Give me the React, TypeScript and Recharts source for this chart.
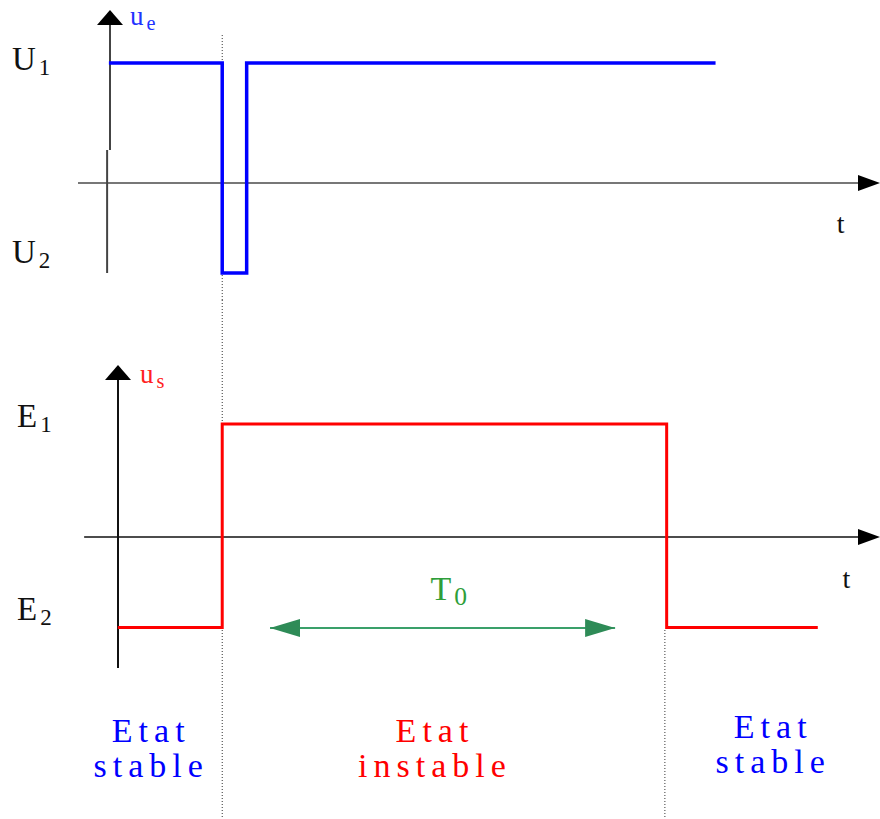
import React from "react";
import {
  LineChart,
  Line,
  XAxis,
  YAxis,
  ReferenceLine,
  ReferenceDot,
} from "recharts";

// input pulse u_e (time in ms, levels relative to U1)
const inputTimes = [-2.55, 0, 0.55, 11.1];
const inputValues = [1, -0.75, 1, 1];
const inputLevelValues = [1, -0.75];
const inputLevelNames = ["U1", "U2"];

// output u_s of the monostable
const outputTimes = [-2.35, 0, 10, 13.4];
const outputValues = [-0.8, 1, -0.8, -0.8];
const outputLevelValues = [1, -0.8];
const outputLevelNames = ["E1", "E2"];

const pulseStart = 0;
const pulseEnd = 10; // T0

const stateLabels = [
  ["Etat", "stable"],
  ["Etat", "instable"],
  ["Etat", "stable"],
];
const stateColors = ["#0000ff", "#ff0000", "#0000ff"];
const stateCenters = [-1.665, 4.72, 12.33];

const timeDomain: [number, number] = [-3.65, 14.8];
const topDomain: [number, number] = [-0.975, 1.525];
const bottomDomain: [number, number] = [-2.4956, 2.0973];

const SERIF = '"Liberation Serif", "DejaVu Serif", serif';

const inputData = inputTimes.map((t, i) => ({ t, v: inputValues[i] }));
const outputData = outputTimes.map((t, i) => ({ t, v: outputValues[i] }));

const levelTick = (names: string[], values: number[], x: number, dys: number[]) =>
  (props: any) => {
    const i = values.indexOf(props.payload.value);
    if (i < 0) return <g />;
    const name = names[i];
    return (
      <text x={x} y={props.y + dys[i]} fontFamily={SERIF} fontSize={33} fill="#111" letterSpacing={3}>
        {name[0]}
        <tspan fontSize={23} dy={5}>
          {name.slice(1)}
        </tspan>
      </text>
    );
  };

const arrowUp = (props: any) => (
  <polygon
    points={`${props.cx},${props.cy} ${props.cx - 13},${props.cy + 15} ${props.cx + 13},${props.cy + 15}`}
    fill="#000"
  />
);

const arrowRight = (props: any) => (
  <polygon
    points={`${props.cx},${props.cy} ${props.cx - 22},${props.cy - 8} ${props.cx - 22},${props.cy + 8}`}
    fill="#000"
  />
);

const greenRight = (props: any) => (
  <polygon
    points={`${props.cx},${props.cy} ${props.cx - 30},${props.cy - 9} ${props.cx - 30},${props.cy + 9}`}
    fill="#2e8b57"
  />
);

const greenLeft = (props: any) => (
  <polygon
    points={`${props.cx},${props.cy} ${props.cx + 30},${props.cy - 9} ${props.cx + 30},${props.cy + 9}`}
    fill="#2e8b57"
  />
);

const subLabel = (main: string, sub: string, color: string, size: number, anchor = "start") =>
  (props: any) => (
    <text
      x={props.cx}
      y={props.cy}
      fontFamily={SERIF}
      fontSize={size}
      fill={color}
      textAnchor={anchor}
      letterSpacing={3}
    >
      {main}
      <tspan fontSize={size * 0.75} dy={5}>
        {sub}
      </tspan>
    </text>
  );

const twoLines = (lines: string[], color: string) => (props: any) => (
  <text
    x={props.cx}
    y={props.cy}
    fontFamily={SERIF}
    fontSize={34}
    fill={color}
    textAnchor="middle"
    letterSpacing={6}
  >
    <tspan x={props.cx + 3}>{lines[0]}</tspan>
    <tspan x={props.cx + 3} dy={35}>
      {lines[1]}
    </tspan>
  </text>
);

const dotted = "1 2";

export default function App() {
  return (
    <div style={{ position: "absolute", left: 0, top: 0, width: 880, height: 819, background: "#fff" }}>
      <div style={{ position: "absolute", left: 0, top: 0 }}>
        <LineChart width={880} height={300} data={inputData} margin={{ top: 0, right: 0, bottom: 0, left: 0 }}>
          <XAxis dataKey="t" type="number" domain={timeDomain} hide allowDataOverflow />
          <YAxis
            type="number"
            domain={topDomain}
            ticks={inputLevelValues}
            width={60}
            axisLine={false}
            tickLine={false}
            allowDataOverflow
            tick={levelTick(inputLevelNames, inputLevelValues, 12, [7, -10])}
          />
          <ReferenceLine
            segment={[{ x: pulseStart, y: 1.233 }, { x: pulseStart, y: topDomain[0] }]}
            stroke="#333"
            strokeDasharray={dotted}
            ifOverflow="visible"
          />
          <ReferenceLine
            segment={[{ x: -3.245, y: 0 }, { x: 14.4, y: 0 }]}
            stroke="#777"
            strokeWidth={2}
            ifOverflow="visible"
          />
          <ReferenceLine
            segment={[{ x: -2.525, y: 1.317 }, { x: -2.525, y: 0.275 }]}
            stroke="#444"
            strokeWidth={2}
            ifOverflow="visible"
          />
          <ReferenceLine
            segment={[{ x: -2.59, y: 0.275 }, { x: -2.59, y: -0.75 }]}
            stroke="#444"
            strokeWidth={2}
            ifOverflow="visible"
          />
          <ReferenceDot x={-2.525} y={1.442} r={0} shape={arrowUp} ifOverflow="visible" />
          <ReferenceDot x={14.8} y={0} r={0} shape={arrowRight} ifOverflow="visible" />
          <ReferenceDot x={-2.075} y={1.317} r={0} shape={subLabel("u", "e", "#2233ff", 27)} ifOverflow="visible" />
          <ReferenceDot x={13.95} y={-0.417} r={0} shape={subLabel("t", "", "#111", 28, "middle")} ifOverflow="visible" />
          <Line
            dataKey="v"
            type="stepAfter"
            stroke="#0000ff"
            strokeWidth={3.5}
            dot={false}
            isAnimationActive={false}
            strokeLinejoin="miter"
          />
        </LineChart>
      </div>
      <div style={{ position: "absolute", left: 0, top: 300 }}>
        <LineChart width={880} height={519} data={outputData} margin={{ top: 0, right: 0, bottom: 0, left: 0 }}>
          <XAxis dataKey="t" type="number" domain={timeDomain} hide allowDataOverflow />
          <YAxis
            type="number"
            domain={bottomDomain}
            ticks={outputLevelValues}
            width={60}
            axisLine={false}
            tickLine={false}
            allowDataOverflow
            tick={levelTick(outputLevelNames, outputLevelValues, 17, [3, -7])}
          />
          <ReferenceLine
            segment={[{ x: pulseStart, y: bottomDomain[1] }, { x: pulseStart, y: bottomDomain[0] }]}
            stroke="#333"
            strokeDasharray={dotted}
            ifOverflow="visible"
          />
          <ReferenceLine
            segment={[{ x: pulseEnd - 0.04, y: -0.823 }, { x: pulseEnd - 0.04, y: bottomDomain[0] }]}
            stroke="#333"
            strokeDasharray={dotted}
            ifOverflow="visible"
          />
          <ReferenceLine
            segment={[{ x: -3.107, y: 0 }, { x: 14.45, y: 0 }]}
            stroke="#111"
            strokeWidth={1.5}
            ifOverflow="visible"
          />
          <ReferenceLine
            segment={[{ x: -2.345, y: 1.389 }, { x: -2.345, y: -1.159 }]}
            stroke="#111"
            strokeWidth={2}
            ifOverflow="visible"
          />
          <ReferenceDot x={-2.345} y={1.522} r={0} shape={arrowUp} ifOverflow="visible" />
          <ReferenceDot x={14.8} y={0} r={0} shape={arrowRight} ifOverflow="visible" />
          <ReferenceDot x={-1.85} y={1.363} r={0} shape={subLabel("u", "s", "#ff2222", 27)} ifOverflow="visible" />
          <ReferenceDot x={14.08} y={-0.451} r={0} shape={subLabel("t", "", "#111", 28, "middle")} ifOverflow="visible" />
          <ReferenceLine
            segment={[{ x: 1.075, y: -0.805 }, { x: 8.84, y: -0.805 }]}
            stroke="#3aa06a"
            strokeWidth={2}
            ifOverflow="visible"
          />
          <ReferenceDot x={1.075} y={-0.805} r={0} shape={greenLeft} ifOverflow="visible" />
          <ReferenceDot x={8.84} y={-0.805} r={0} shape={greenRight} ifOverflow="visible" />
          <ReferenceDot x={5.13} y={-0.558} r={0} shape={subLabel("T", "0", "#2e9e3a", 34, "middle")} ifOverflow="visible" />
          {stateLabels.map((lines, i) => (
            <ReferenceDot
              key={i}
              x={stateCenters[i]}
              y={i === 2 ? -1.779 : -1.814}
              r={0}
              shape={twoLines(lines, stateColors[i])}
              ifOverflow="visible"
            />
          ))}
          <Line
            dataKey="v"
            type="stepAfter"
            stroke="#ff0000"
            strokeWidth={3}
            dot={false}
            isAnimationActive={false}
            strokeLinejoin="miter"
          />
        </LineChart>
      </div>
    </div>
  );
}
